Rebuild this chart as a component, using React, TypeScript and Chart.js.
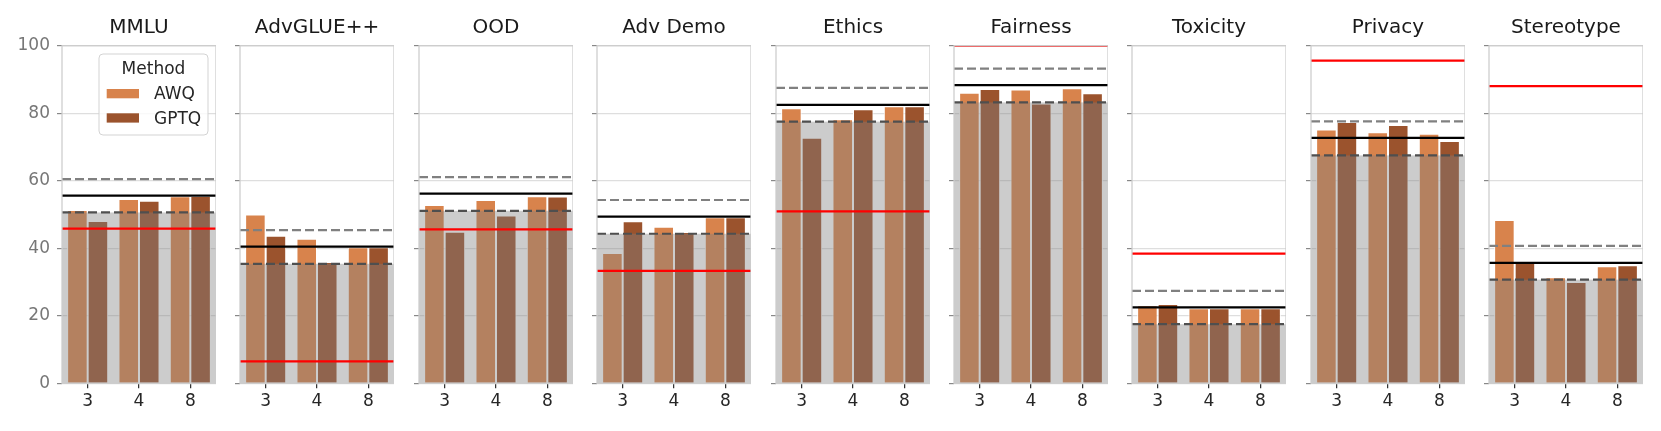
import React, { useEffect, useRef } from 'react';
import { Chart, registerables } from 'chart.js';

Chart.register(...registerables);

// ---------------- data ----------------
const tasks = ['MMLU', 'AdvGLUE++', 'OOD', 'Adv Demo', 'Ethics', 'Fairness', 'Toxicity', 'Privacy', 'Stereotype'];
const bitWidths = ['3', '4', '8'];
const methods = ['AWQ', 'GPTQ'];

const awqScores = [
  [51.3, 54.6, 55.4],
  [50.0, 42.8, 40.3],
  [52.8, 54.3, 55.4],
  [38.6, 46.4, 49.2],
  [81.5, 78.2, 82.1],
  [86.1, 87.0, 87.4],
  [23.1, 22.2, 22.2],
  [75.2, 74.4, 73.9],
  [48.4, 31.4, 34.7],
];
const gptqScores = [
  [48.1, 54.1, 55.5],
  [43.7, 35.9, 40.3],
  [44.9, 49.7, 55.3],
  [48.0, 44.8, 49.2],
  [72.7, 81.2, 82.1],
  [87.2, 82.9, 85.9],
  [23.5, 22.2, 22.2],
  [77.4, 76.5, 71.8],
  [35.6, 30.0, 35.0],
];
const meanLine = [55.6, 40.5, 56.2, 49.4, 82.5, 88.3, 22.5, 72.7, 35.7];
const upperLine = [60.5, 45.4, 61.1, 54.3, 87.5, 93.2, 27.4, 77.6, 40.7];
const lowerLine = [50.6, 35.4, 51.1, 44.3, 77.5, 83.2, 17.5, 67.5, 30.7];
const redLine = [45.8, 6.5, 45.6, 33.3, 50.9, 100, 38.4, 95.6, 88.0];
const yTickStep = 20;
const yMin = 0;
const yMax = 100;

// ---------------- style ----------------
const FONT = "'DejaVu Sans', sans-serif";
const AWQ_COLOR = '#D8834C';
const GPTQ_COLOR = '#9B532D';
const PANEL_LEFT0 = 62;
const PANEL_STEP = 178.4;
const PLOT_W = 154;
const AXIS_W = 50;
const BOTTOM = 383.3;
const H = 431;

// reference lines and shaded band, positioned through the chart's y scale
const refLinesPlugin = {
  id: 'refLines',
  afterDatasetsDraw(chart: any, _args: any, opts: any) {
    const { ctx, chartArea: a, scales } = chart;
    const y = scales.y;
    ctx.save();
    ctx.beginPath();
    ctx.rect(a.left, a.top, a.right - a.left, a.bottom - a.top);
    ctx.clip();
    // band from 0 up to the lower line
    const bandTop = y.getPixelForValue(opts.lower);
    const bandBottom = y.getPixelForValue(yMin);
    ctx.fillStyle = 'rgba(128,128,128,0.4)';
    ctx.fillRect(a.left, bandTop, a.right - a.left, bandBottom - bandTop);
    const hline = (v: number, color: string, dash: number[]) => {
      const py = y.getPixelForValue(v);
      ctx.beginPath();
      ctx.setLineDash(dash);
      ctx.strokeStyle = color;
      ctx.lineWidth = 2.2;
      ctx.moveTo(a.left, py);
      ctx.lineTo(a.right, py);
      ctx.stroke();
    };
    hline(opts.upper, '#808080', [9, 4]);
    hline(opts.lower, '#4f4f4f', [9, 4]);
    hline(opts.mean, '#000000', []);
    hline(opts.red, '#ff0000', []);
    ctx.restore();
    // frame
    ctx.save();
    ctx.strokeStyle = '#cccccc';
    ctx.lineWidth = 1.25;
    ctx.strokeRect(a.left, a.top, a.right - a.left, a.bottom - a.top);
    ctx.restore();
  },
};

const legendPlugin = {
  id: 'methodLegend',
  afterDraw(chart: any) {
    const { ctx, chartArea: a } = chart;
    const x = a.left + 37;
    const y = a.top + 8.3;
    const w = 109;
    const h = 81;
    ctx.save();
    ctx.beginPath();
    ctx.roundRect(x, y, w, h, 4);
    ctx.fillStyle = 'rgba(255,255,255,0.8)';
    ctx.fill();
    ctx.strokeStyle = '#d3d3d3';
    ctx.lineWidth = 1;
    ctx.stroke();
    ctx.font = `17px ${FONT}`;
    ctx.fillStyle = '#262626';
    ctx.textBaseline = 'middle';
    ctx.textAlign = 'center';
    ctx.fillText('Method', x + w / 2, y + 15.5);
    const ds = chart.data.datasets;
    [0, 1].forEach((k) => {
      const py = y + 35 + k * 24.3;
      ctx.fillStyle = ds[k].backgroundColor;
      ctx.fillRect(x + 7.7, py, 32.3, 9.3);
      ctx.fillStyle = '#262626';
      ctx.textAlign = 'left';
      ctx.fillText(ds[k].label, x + 55, py + 5.8);
    });
    ctx.restore();
  },
};

function Panel({ index }: { index: number }) {
  const ref = useRef<HTMLCanvasElement>(null);
  useEffect(() => {
    if (!ref.current) return;
    const chart = new Chart(ref.current, {
      type: 'bar',
      data: {
        labels: bitWidths,
        datasets: [
          {
            label: methods[0],
            data: awqScores[index],
            backgroundColor: AWQ_COLOR,
            borderColor: '#ffffff',
            borderWidth: 1,
            categoryPercentage: 0.8,
            barPercentage: 1,
          },
          {
            label: methods[1],
            data: gptqScores[index],
            backgroundColor: GPTQ_COLOR,
            borderColor: '#ffffff',
            borderWidth: 1,
            categoryPercentage: 0.8,
            barPercentage: 1,
          },
        ],
      },
      options: {
        animation: false,
        responsive: true,
        maintainAspectRatio: false,
        layout: { padding: 0 },
        plugins: {
          legend: { display: false },
          tooltip: { enabled: false },
          title: {
            display: true,
            text: tasks[index],
            fullSize: false,
            color: '#1a1a1a',
            font: { family: FONT, size: 20, weight: 'normal', lineHeight: 1.2 },
            padding: { top: 15.7, bottom: 6 },
          },
          refLines: {
            lower: lowerLine[index],
            upper: upperLine[index],
            mean: meanLine[index],
            red: redLine[index],
          },
        },
        scales: {
          x: {
            type: 'category',
            offset: true,
            grid: {
              offset: false,
              drawOnChartArea: false,
              drawTicks: true,
              tickLength: 5,
              tickColor: '#333333',
              lineWidth: 1.25,
            },
            border: { display: false },
            ticks: {
              color: '#262626',
              font: { family: FONT, size: 17 },
              padding: 3,
              maxRotation: 0,
              autoSkip: false,
            },
            afterFit: (s: any) => {
              s.height = H - BOTTOM;
            },
          },
          y: {
            min: yMin,
            max: yMax,
            ticks: {
              stepSize: yTickStep,
              display: index === 0,
              color: '#777777',
              font: { family: FONT, size: 17 },
              padding: 7,
            },
            grid: { color: '#dedede', lineWidth: 1.2, tickLength: 5, tickColor: '#888888' },
            border: { display: false },
            afterFit: (s: any) => {
              s.width = AXIS_W;
            },
          },
        } as any,
      } as any,
      plugins: index === 0 ? [refLinesPlugin, legendPlugin] : [refLinesPlugin],
    } as any);
    return () => chart.destroy();
  }, [index]);

  const left = Math.round(PANEL_LEFT0 + PANEL_STEP * index) - AXIS_W;
  return (
    <div style={{ position: 'absolute', left, top: 0, width: AXIS_W + PLOT_W, height: H }}>
      <canvas ref={ref} style={{ display: 'block' }} />
    </div>
  );
}

export default function App() {
  return (
    <div
      style={{
        position: 'absolute',
        left: 0,
        top: 0,
        width: 1661,
        height: 431,
        overflow: 'hidden',
        background: '#ffffff',
      }}
    >
      {tasks.map((t, i) => (
        <Panel key={t} index={i} />
      ))}
    </div>
  );
}
